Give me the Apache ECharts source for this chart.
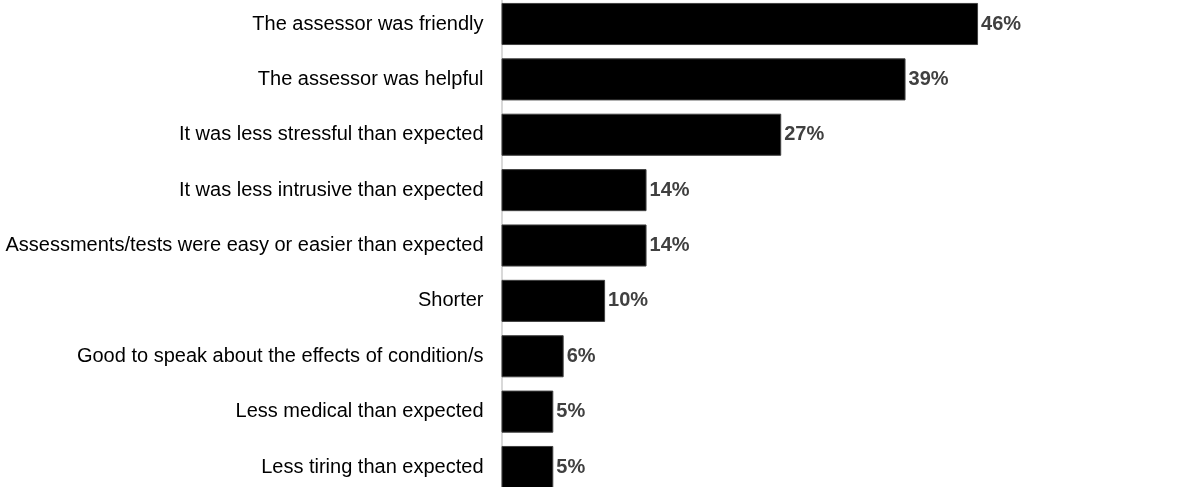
<!DOCTYPE html>
<html>
<head>
<meta charset="utf-8">
<style>
  html, body { margin: 0; padding: 0; background: #fff; }
  #chart { width: 1180px; height: 487px; }
</style>
<script src="https://cdn.jsdelivr.net/npm/echarts@6/dist/echarts.min.js"></script>
</head>
<body>
<div id="chart"></div>
<script>
// Reasons given for a positive assessment experience (% of respondents)
const categories = [
  'The assessor was friendly',
  'The assessor was helpful',
  'It was less stressful than expected',
  'It was less intrusive than expected',
  'Assessments/tests were easy or easier than expected',
  'Shorter',
  'Good to speak about the effects of condition/s',
  'Less medical than expected',
  'Less tiring than expected'
];
const values = [46, 39, 27, 14, 14, 10, 6, 5, 5];

const chart = echarts.init(document.getElementById('chart'), null, { renderer: 'canvas' });

chart.setOption({
  animation: false,
  backgroundColor: '#ffffff',
  grid: {
    left: 501.5, top: -3.7, width: 673.4, height: 498.4,
    containLabel: false,
    outerBoundsMode: 'none'
  },
  xAxis: {
    type: 'value',
    min: 0,
    max: 65,
    show: false,
    splitLine: { show: false }
  },
  yAxis: {
    type: 'category',
    inverse: true,
    data: categories,
    axisLine: { show: true, lineStyle: { color: '#d9d9d9', width: 2 } },
    axisTick: { show: false },
    axisLabel: {
      margin: 18,
      color: '#000000',
      fontFamily: 'Liberation Sans, Arial, sans-serif',
      fontSize: 20
    }
  },
  series: [{
    type: 'bar',
    data: values,
    barCategoryGap: '24%',
    itemStyle: { color: '#000000', borderColor: '#404040', borderWidth: 1 },
    label: {
      show: true,
      position: 'right',
      distance: 3,
      formatter: p => p.value + '%',
      color: '#404040',
      fontWeight: 'bold',
      fontFamily: 'Liberation Sans, Arial, sans-serif',
      fontSize: 20
    }
  }]
});
</script>
</body>
</html>
